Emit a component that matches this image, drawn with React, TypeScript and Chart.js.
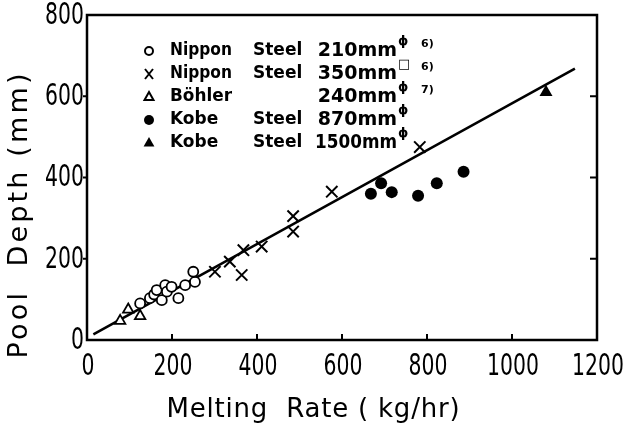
import { useEffect, useRef } from 'react';
import { Chart, registerables } from 'chart.js';
Chart.register(...registerables);

// ---- data ----
const nippon210 = [
  { x: 125, y: 90 }, { x: 148, y: 103 }, { x: 158, y: 112 }, { x: 164, y: 123 },
  { x: 176, y: 98 }, { x: 184, y: 135 }, { x: 188, y: 119 }, { x: 199, y: 131 },
  { x: 215, y: 103 }, { x: 231, y: 135 }, { x: 254, y: 143 }, { x: 250, y: 168 },
];
const nippon350 = [
  { x: 301, y: 168 }, { x: 336, y: 193 }, { x: 364, y: 160 }, { x: 368, y: 221 },
  { x: 411, y: 230 }, { x: 485, y: 305 }, { x: 485, y: 267 }, { x: 576, y: 365 },
  { x: 783, y: 475 },
];
const bohler240 = [{ x: 78, y: 47 }, { x: 97, y: 75 }, { x: 125, y: 59 }];
const kobe870 = [
  { x: 668, y: 360 }, { x: 692, y: 386 }, { x: 717, y: 364 },
  { x: 779, y: 355 }, { x: 823, y: 386 }, { x: 886, y: 414 },
];
const kobe1500 = [{ x: 1080, y: 610 }];
const fitLine = [{ x: 15, y: 14 }, { x: 1148, y: 668 }];

const xTickValues = [0, 200, 400, 600, 800, 1000, 1200];
const yTickValues = [0, 200, 400, 600, 800];
const xTickLabels = ['0', '200', '400', '600', '800', '1000', '1200'];
const yTickLabels = ['0', '200', '400', '600', '800'];

const legendMarkers = ['openCircle', 'cross', 'openTriangle', 'filledCircle', 'filledTriangle'];
const legendMakers = ['Nippon', 'Nippon', 'Böhler', 'Kobe', 'Kobe'];
const legendSecond = ['Steel', 'Steel', '', 'Steel', 'Steel'];
const legendSizes = ['210mm', '350mm', '240mm', '870mm', '1500mm'];
const legendSups = ['ϕ', '□', 'ϕ', 'ϕ', 'ϕ'];
const legendRefs = ['6)', '6)', '7)', '', ''];

const xTitle = 'Melting  Rate ( kg/hr)';
const yTitle = 'Pool  Depth (mm)';

function spreadText(ctx: CanvasRenderingContext2D, text: string, cx: number, cy: number, font: string, target: number) {
  ctx.font = font;
  (ctx as any).letterSpacing = '0px';
  const w = ctx.measureText(text).width;
  let sp = 0;
  if (target > w) sp = (target - w) / text.length;
  (ctx as any).letterSpacing = sp + 'px';
  ctx.textAlign = 'left';
  ctx.textBaseline = 'middle';
  ctx.fillText(text, cx - target / 2 + sp / 2, cy);
  (ctx as any).letterSpacing = '0px';
}

function scaledText(ctx: CanvasRenderingContext2D, text: string, x: number, y: number, sx: number, align: CanvasTextAlign) {
  ctx.save();
  ctx.translate(x, y);
  ctx.scale(sx, 1);
  ctx.textAlign = align;
  ctx.textBaseline = 'middle';
  ctx.fillText(text, 0, 0);
  ctx.restore();
}

function drawMarker(ctx: CanvasRenderingContext2D, kind: string, x: number, y: number) {
  ctx.save();
  ctx.strokeStyle = '#000';
  ctx.fillStyle = '#000';
  ctx.lineWidth = 2;
  ctx.beginPath();
  if (kind === 'openCircle') {
    ctx.arc(x, y, 4, 0, Math.PI * 2);
    ctx.stroke();
  } else if (kind === 'filledCircle') {
    ctx.arc(x, y, 5, 0, Math.PI * 2);
    ctx.fill();
  } else if (kind === 'cross') {
    ctx.moveTo(x - 4, y - 5); ctx.lineTo(x + 4, y + 5);
    ctx.moveTo(x + 4, y - 5); ctx.lineTo(x - 4, y + 5);
    ctx.stroke();
  } else {
    const r = kind === 'filledTriangle' ? 6 : 5;
    ctx.moveTo(x, y - r);
    ctx.lineTo(x + r * 0.9, y + r * 0.6);
    ctx.lineTo(x - r * 0.9, y + r * 0.6);
    ctx.closePath();
    if (kind === 'filledTriangle') ctx.fill(); else ctx.stroke();
  }
  ctx.restore();
}

const framePlugin = {
  id: 'frame',
  afterDraw(chart: any) {
    const { ctx, chartArea: a } = chart;
    const xs = chart.scales.x;
    const ys = chart.scales.y;
    ctx.save();
    ctx.strokeStyle = '#000';
    ctx.fillStyle = '#000';
    ctx.lineWidth = 2.5;
    ctx.strokeRect(a.left, a.top, a.right - a.left, a.bottom - a.top);
    ctx.lineWidth = 2;
    ctx.beginPath();
    xs.ticks.forEach((t: any) => {
      if (t.value > 0 && t.value < 1200) {
        const px = xs.getPixelForValue(t.value);
        ctx.moveTo(px, a.bottom);
        ctx.lineTo(px, a.bottom - 6);
      }
    });
    ys.ticks.forEach((t: any) => {
      if (t.value > 0 && t.value < 800) {
        const py = ys.getPixelForValue(t.value);
        ctx.moveTo(a.left, py);
        ctx.lineTo(a.left - 4, py);
        ctx.moveTo(a.right, py);
        ctx.lineTo(a.right - 7, py);
      }
    });
    ctx.stroke();

    // tick labels
    ctx.font = '30px "DejaVu Sans"';
    xs.ticks.forEach((t: any, i: number) => {
      const px = xs.getPixelForValue(t.value);
      scaledText(ctx, xTickLabels[i], px + 1, 367, 0.68, 'center');
    });
    ys.ticks.forEach((t: any, i: number) => {
      const py = ys.getPixelForValue(t.value);
      scaledText(ctx, yTickLabels[i], a.left - 3, py + 1, 0.68, 'right');
    });

    // axis titles
    spreadText(ctx, xTitle, 313, 410, '26px "DejaVu Sans"', 294);
    ctx.save();
    ctx.translate(20, 216);
    ctx.rotate(-Math.PI / 2);
    spreadText(ctx, yTitle, 0, 0, '27px "DejaVu Sans"', 288);
    ctx.restore();

    // legend
    const rows = [51, 74, 97, 120, 143];
    rows.forEach((ry, i) => {
      drawMarker(ctx, legendMarkers[i], 149, ry);
      ctx.font = 'bold 17px "DejaVu Sans"';
      ctx.textBaseline = 'middle';
      ctx.textAlign = 'left';
      ctx.fillText(legendMakers[i], 170, ry, 62);
      if (legendSecond[i]) ctx.fillText(legendSecond[i], 253, ry, 50);
      ctx.font = 'bold 19px "DejaVu Sans"';
      ctx.textAlign = 'right';
      ctx.fillText(legendSizes[i], 397, ry, 82);
      ctx.textAlign = 'left';
      ctx.font = 'bold 13px "DejaVu Sans"';
      ctx.fillText(legendSups[i], 398, ry - 9);
      ctx.font = 'bold 11px "DejaVu Sans"';
      if (legendRefs[i]) ctx.fillText(legendRefs[i], 421, ry - 7);
    });
    ctx.restore();
  },
};

export default function App() {
  const ref = useRef<HTMLCanvasElement>(null);
  useEffect(() => {
    document.body.style.margin = '0';
    const chart = new Chart(ref.current as HTMLCanvasElement, {
      type: 'scatter',
      data: {
        datasets: [
          {
            label: 'Nippon Steel 210mm', data: nippon210, pointStyle: 'circle', pointRadius: 5,
            pointBorderWidth: 1.8, pointBackgroundColor: '#fff', pointBorderColor: '#000', order: 1,
          },
          {
            label: 'Nippon Steel 350mm', data: nippon350, pointStyle: 'crossRot', pointRadius: 8,
            pointBorderWidth: 2, pointBorderColor: '#000', order: 1,
          },
          {
            label: 'Böhler 240mm', data: bohler240, pointStyle: 'triangle', pointRadius: 6,
            pointBorderWidth: 1.8, pointBackgroundColor: '#fff', pointBorderColor: '#000', order: 1,
          },
          {
            label: 'Kobe Steel 870mm', data: kobe870, pointStyle: 'circle', pointRadius: 6,
            pointBorderWidth: 0, pointBackgroundColor: '#000', pointBorderColor: '#000', order: 1,
          },
          {
            label: 'Kobe Steel 1500mm', data: kobe1500, pointStyle: 'triangle', pointRadius: 7.5,
            pointBorderWidth: 0, pointBackgroundColor: '#000', pointBorderColor: '#000', order: 1,
          },
          {
            type: 'line', label: 'fit', data: fitLine, borderColor: '#000', borderWidth: 2.5,
            pointRadius: 0, showLine: true, fill: false, order: 5,
          } as any,
        ],
      },
      options: {
        responsive: false,
        animation: false,
        devicePixelRatio: 1,
        layout: { padding: { top: 15, right: 35, left: 0, bottom: 0 } },
        plugins: { legend: { display: false }, tooltip: { enabled: false } },
        scales: {
          x: {
            type: 'linear', min: 0, max: 1200,
            grid: { display: false }, border: { display: false }, ticks: { display: false },
            afterBuildTicks: (s: any) => { s.ticks = xTickValues.map((value) => ({ value })); },
            afterFit: (s: any) => { s.height = 88; },
          },
          y: {
            type: 'linear', min: 0, max: 800,
            grid: { display: false }, border: { display: false }, ticks: { display: false },
            afterBuildTicks: (s: any) => { s.ticks = yTickValues.map((value) => ({ value })); },
            afterFit: (s: any) => { s.width = 87; },
          },
        },
      },
      plugins: [framePlugin],
    } as any);
    return () => chart.destroy();
  }, []);
  return <canvas ref={ref} width={632} height={428} style={{ display: 'block' }} />;
}
